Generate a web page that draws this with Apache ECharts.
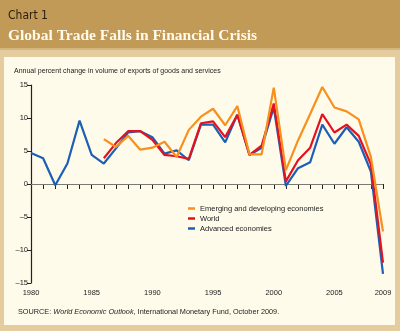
<!DOCTYPE html>
<html><head><meta charset="utf-8">
<script src="https://cdn.jsdelivr.net/npm/echarts@6/dist/echarts.min.js"></script>
<style>html,body{margin:0;padding:0;background:#e4cc9f;}#c{width:400px;height:331px;}</style>
</head><body><div id="c"></div>
<script>
// Data
var years = [1980,1981,1982,1983,1984,1985,1986,1987,1988,1989,1990,1991,1992,1993,1994,1995,1996,1997,1998,1999,2000,2001,2002,2003,2004,2005,2006,2007,2008,2009];
var advanced = [4.7,3.9,-0.2,3.1,9.6,4.4,3.1,5.4,7.8,8.0,7.1,4.6,5.1,3.6,9.0,9.0,6.3,10.5,4.4,5.5,11.6,-0.3,2.4,3.3,9.0,6.1,8.6,6.4,1.9,-13.6];
var world = [null,null,null,null,null,null,3.9,6.2,8.0,8.0,6.7,4.4,4.2,3.8,9.2,9.5,7.1,10.5,4.4,5.8,12.2,0.4,3.6,5.5,10.6,7.8,9.0,7.3,3.0,-11.9];
var emerging = [null,null,null,null,null,null,6.8,5.6,7.3,5.2,5.5,6.4,4.1,8.2,10.2,11.4,8.9,11.8,4.5,4.5,14.6,2.1,6.6,10.6,14.7,11.6,11.0,9.8,4.1,-7.2];
var seriesNames = ['Emerging and developing economies','World','Advanced economies'];
var xLabels = [1980,1985,1990,1995,2000,2005,2009];
var yTicks = [-15,-10,-5,0,5,10,15];

function pairs(vals){ return years.map(function(y,i){ return [y, vals[i]]; }); }

var chart = echarts.init(document.getElementById('c'), null, {renderer:'canvas'});
var axisFont = 'Liberation Sans, Arial, sans-serif';
chart.setOption({
  animation:false,
  backgroundColor:'#e4cc9f',
  graphic:[
    {type:'rect', shape:{x:0,y:0,width:400,height:48}, style:{fill:'#c09a56'}, z:-10},
    {type:'rect', shape:{x:0,y:48,width:400,height:2}, style:{fill:'#d4b57c'}, z:-10},
    {type:'rect', shape:{x:4,y:57,width:391,height:268}, style:{fill:'#fffbea'}, z:-10},
    {type:'text', left:8, top:10, style:{text:'Chart 1', fill:'#2a1e0c', font:'12px "DejaVu Sans Condensed", "Liberation Sans Narrow", sans-serif'}},
    {type:'text', left:8, top:28, style:{text:'Global Trade Falls in Financial Crisis', fill:'#fffaf0', font:'bold 15.5px "Liberation Serif", "Times New Roman", serif'}},
    {type:'text', left:14, top:68, style:{text:'Annual percent change in volume of exports of goods and services', fill:'#222', font:'7px ' + axisFont}},
    {type:'text', left:18, top:308, style:{
      text:'{n|SOURCE: }{i|World Economic Outlook}{n|, International Monetary Fund, October 2009.}',
      rich:{n:{fontSize:7.3, fontFamily:axisFont, fill:'#222'}, i:{fontSize:7.3, fontFamily:axisFont, fontStyle:'italic', fill:'#222'}}
    }}
  ],
  legend:{
    left:183, top:199, orient:'vertical', icon:'rect', itemWidth:7, itemHeight:2.5, itemGap:1,
    textStyle:{fontSize:7.5, fontFamily:axisFont, color:'#222', lineHeight:9, padding:[0,0,0,0]},
    data:seriesNames
  },
  grid:{left:31, top:85, width:352, height:198, containLabel:false},
  xAxis:{
    type:'value', min:1980, max:2009, interval:1,
    axisLine:{show:true, lineStyle:{color:'#222', width:1.2}},
    axisTick:{show:true, length:5, lineStyle:{color:'#222', width:1}},
    axisLabel:{fontSize:7.5, fontFamily:axisFont, color:'#222', margin:6,
      formatter:function(v){ return xLabels.indexOf(v) >= 0 ? String(v) : ''; }},
    splitLine:{show:false}
  },
  yAxis:{
    type:'value', min:-15, max:15, interval:5,
    axisLine:{show:true, lineStyle:{color:'#222', width:1.2}},
    axisTick:{show:true, length:4, lineStyle:{color:'#222'}},
    axisLabel:{fontSize:7.5, fontFamily:axisFont, color:'#222', margin:3,
      formatter:function(v){ return yTicks.indexOf(v) >= 0 ? String(v).replace('-', '\u2013') : ''; }},
    splitLine:{show:false}
  },
  series:[
    {name:seriesNames[2], type:'line', data:pairs(advanced), symbol:'none', color:'#1c5fb5', lineStyle:{width:2.2, color:'#1c5fb5'}, z:3,
      markLine:{silent:true, symbol:'none', label:{show:false}, lineStyle:{color:'#7a7a72', width:1, type:'solid'}, data:[{yAxis:0}], z:1}},
    {name:seriesNames[1], type:'line', data:pairs(world), symbol:'none', color:'#e5121d', lineStyle:{width:2.2, color:'#e5121d'}, z:4},
    {name:seriesNames[0], type:'line', data:pairs(emerging), symbol:'none', color:'#f7901e', lineStyle:{width:2.2, color:'#f7901e'}, z:5}
  ]
});
</script></body></html>
